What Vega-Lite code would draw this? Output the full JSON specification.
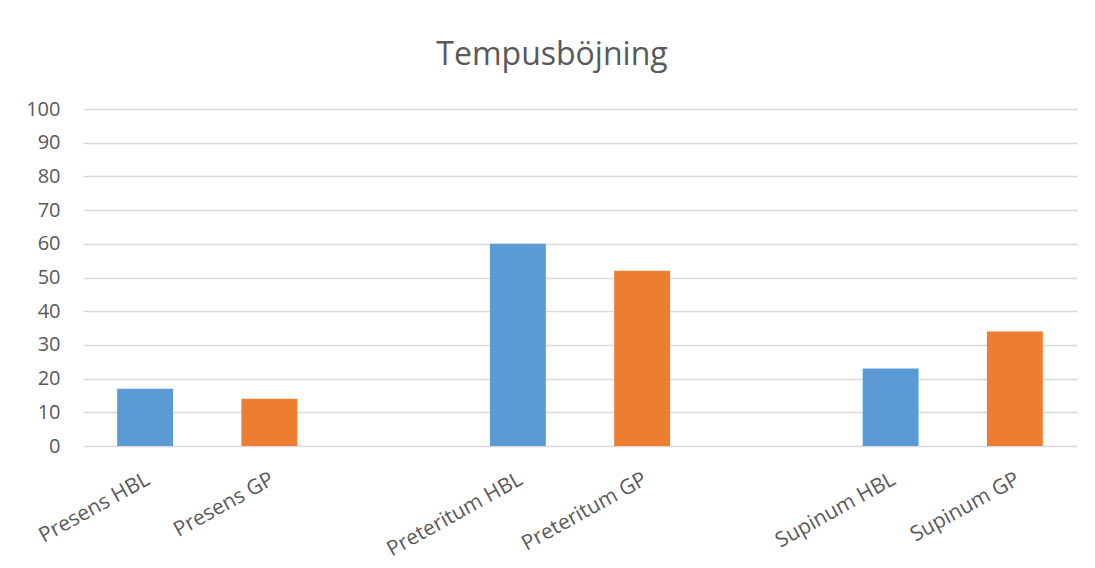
{
  "$schema": "https://vega.github.io/schema/vega-lite/v6.json",
  "autosize": {"type": "none"},
  "width": 994,
  "height": 337,
  "padding": {"left": 83, "top": 109, "right": 18, "bottom": 122},
  "background": "white",
  "title": {
    "text": "Tempusböjning",
    "font": "Open Sans",
    "fontSize": 32,
    "fontWeight": "normal",
    "color": "#595959",
    "anchor": "middle",
    "dx": -28,
    "offset": 27
  },
  "data": {
    "values": [
      {"kategori": "Presens HBL", "kalla": "HBL", "varde": 17},
      {"kategori": "Presens GP", "kalla": "GP", "varde": 14},
      {"kategori": "Preteritum HBL", "kalla": "HBL", "varde": 60},
      {"kategori": "Preteritum GP", "kalla": "GP", "varde": 52},
      {"kategori": "Supinum HBL", "kalla": "HBL", "varde": 23},
      {"kategori": "Supinum GP", "kalla": "GP", "varde": 34}
    ]
  },
  "mark": {"type": "bar"},
  "encoding": {
    "x": {
      "field": "kategori",
      "type": "nominal",
      "sort": null,
      "scale": {
        "domain": ["Presens HBL", "Presens GP", " ", "Preteritum HBL", "Preteritum GP", "  ", "Supinum HBL", "Supinum GP"],
        "paddingInner": 0.55,
        "paddingOuter": 0.275
      },
      "axis": {
        "title": null,
        "labelAngle": -29,
        "labelAlign": "right",
        "labelBaseline": "top",
        "labelPadding": 22,
        "labelOffset": -2,
        "labelFont": "Open Sans",
        "labelFontSize": 21,
        "labelColor": "#595959",
        "ticks": false,
        "domain": false,
        "grid": false
      }
    },
    "y": {
      "field": "varde",
      "type": "quantitative",
      "scale": {"domain": [0, 100], "nice": false},
      "axis": {
        "title": null,
        "values": [0, 10, 20, 30, 40, 50, 60, 70, 80, 90, 100],
        "labelFont": "Open Sans",
        "labelFontSize": 20,
        "labelColor": "#595959",
        "labelPadding": 23,
        "ticks": false,
        "domain": false,
        "grid": true,
        "gridColor": "#d9d9d9",
        "gridWidth": 1.5
      }
    },
    "color": {
      "field": "kalla",
      "type": "nominal",
      "scale": {"domain": ["HBL", "GP"], "range": ["#5b9bd5", "#ed7d31"]},
      "legend": null
    }
  },
  "config": {"view": {"stroke": null}}
}
